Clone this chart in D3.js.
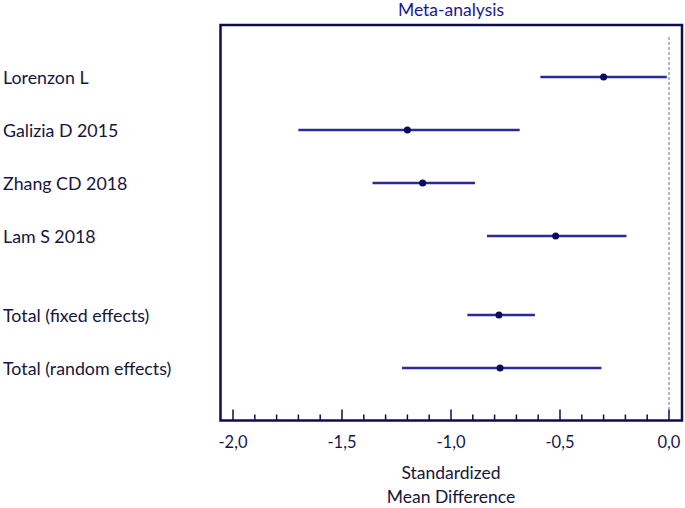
<!DOCTYPE html>
<html><head><meta charset="utf-8">
<script src="https://cdn.jsdelivr.net/npm/d3@7"></script>
<style>body{margin:0;background:#fff}</style>
</head><body>
<script>
const studies = ["Lorenzon L","Galizia D 2015","Zhang CD 2018","Lam S 2018","","Total (fixed effects)","Total (random effects)"];
const estimate = [-0.30,-1.20,-1.13,-0.52,null,-0.78,-0.775];
const lower    = [-0.59,-1.70,-1.36,-0.835,null,-0.925,-1.225];
const upper    = [-0.01,-0.685,-0.89,-0.195,null,-0.615,-0.31];
const ticks = [-2.0,-1.5,-1.0,-0.5,0.0];
const W=685,H=508;
const svg=d3.select("body").append("svg").attr("width",W).attr("height",H);
const font="Lato, sans-serif";
const x=d3.scaleLinear().domain([-2,0]).range([233,669]);
const box={l:220.5,t:25,r:682,b:420.5};
svg.append("rect").attr("x",box.l).attr("y",box.t).attr("width",box.r-box.l).attr("height",box.b-box.t)
  .attr("fill","none").attr("stroke","#0d0d4f").attr("stroke-width",2.5);
const minor=d3.range(-20,1).map(d=>d/10);
svg.append("g").selectAll("line").data(minor).join("line")
  .attr("x1",d=>x(d)).attr("x2",d=>x(d))
  .attr("y1",box.b).attr("y2",(d,i)=>i%5===0?box.b-11:box.b-6)
  .attr("stroke","#0d0d4f").attr("stroke-width",1.5);
svg.append("g").selectAll("text").data(ticks).join("text")
  .attr("x",d=>x(d)).attr("y",448).attr("text-anchor","middle")
  .attr("font-family",font).attr("font-size",16.5).attr("fill","#16164f")
  .text(d=>d3.format(".1f")(d).replace("−","-").replace(".",","));
svg.append("line").attr("x1",x(0)).attr("x2",x(0)).attr("y1",37).attr("y2",412)
  .attr("stroke","#6a6ab8").attr("stroke-width",1).attr("stroke-dasharray","3,2");
const rowY=i=>[77,130,183,236,0,315,368][i];
const g=svg.append("g");
studies.forEach((s,i)=>{
  if(!s) return;
  g.append("text").attr("x",3).attr("y",rowY(i)+7).attr("font-family",font).attr("font-size",17.8)
   .attr("fill","#15153d").text(s);
  g.append("line").attr("x1",x(lower[i])).attr("x2",x(upper[i])).attr("y1",rowY(i)).attr("y2",rowY(i))
   .attr("stroke","#2a2a9a").attr("stroke-width",2.5);
  g.append("circle").attr("cx",x(estimate[i])).attr("cy",rowY(i)).attr("r",3.5).attr("fill","#0a0a5e");
});
svg.append("text").attr("x",451).attr("y",16).attr("text-anchor","middle").attr("font-family",font)
  .attr("font-size",17.5).attr("fill","#1a1a8c").text("Meta-analysis");
svg.append("text").attr("x",451).attr("y",479).attr("text-anchor","middle").attr("font-family",font)
  .attr("font-size",17.5).attr("fill","#15153d").text("Standardized");
svg.append("text").attr("x",451).attr("y",503).attr("text-anchor","middle").attr("font-family",font)
  .attr("font-size",17.5).attr("fill","#15153d").text("Mean Difference");
</script>
</body></html>
